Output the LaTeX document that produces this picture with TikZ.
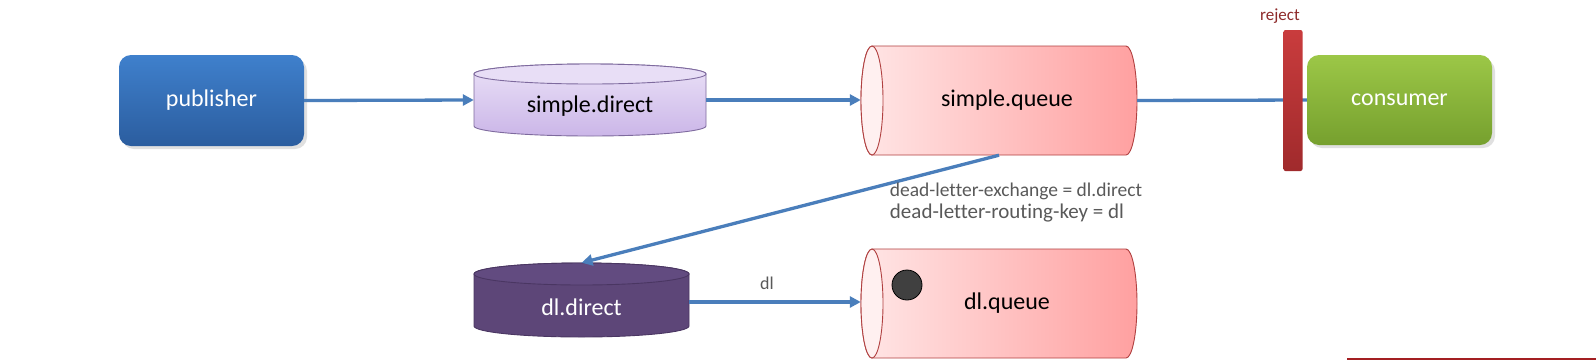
\documentclass[tikz,border=0pt]{standalone}
\usepackage{fontspec}
\setmainfont{Carlito}[Ligatures=NoCommon]
\usetikzlibrary{arrows.meta}
\definecolor{arrowblue}{HTML}{4A7EBB}
\definecolor{pubtop}{HTML}{3F80CC}
\definecolor{pubbot}{HTML}{2B5D9F}
\definecolor{contop}{HTML}{9CC747}
\definecolor{conbot}{HTML}{76A02E}
\definecolor{lavtop}{HTML}{EAE1F7}
\definecolor{lavbot}{HTML}{CBB6E8}
\definecolor{lavface}{HTML}{E8DEF6}
\definecolor{lavline}{HTML}{7E6A9E}
\definecolor{pinkL}{HTML}{FFE6E6}
\definecolor{pinkR}{HTML}{FFA0A0}
\definecolor{pinkface}{HTML}{FFF0F0}
\definecolor{pinkline}{HTML}{B04040}
\definecolor{dlbody}{HTML}{5D4678}
\definecolor{dlface}{HTML}{624B80}
\definecolor{dlline}{HTML}{4A3662}
\definecolor{rejtop}{HTML}{C93C3D}
\definecolor{rejbot}{HTML}{A02A2C}
\definecolor{rejtext}{HTML}{8E2B2B}
\definecolor{graytext}{HTML}{595959}
\definecolor{bottomred}{HTML}{A31F22}
\tikzset{
  conn/.style={draw=arrowblue, line width=3.3pt},
  arr/.style={conn, -{Triangle[length=11pt,width=11pt]}},
  label24/.style={font=\fontsize{24}{28}\selectfont, inner sep=0pt},
  boxnode/.style={rounded corners=12pt, inner sep=0pt, text=white, font=\fontsize{24}{28}\selectfont},
  shapenode/.style={inner sep=0pt, font=\fontsize{24}{28}\selectfont},
  shadowbox/.style={fill=black!12, rounded corners=12pt},
}
\begin{document}
\begin{tikzpicture}[x=1pt,y=-1pt]
\useasboundingbox (0,0) rectangle (1596,360);
\fill[white] (0,0) rectangle (1596,360);

% publisher
\path[shadowbox] (122,59) rectangle (307,149);
\node[boxnode, top color=pubtop, bottom color=pubbot, minimum width=185pt, minimum height=91pt] (pub) at (211.5,100.5) {publisher};

% simple.direct (vertical cylinder)
\shade[top color=lavtop, bottom color=lavbot, draw=lavline, line width=0.9pt]
  (474,74) -- (474,126) arc[start angle=180,end angle=360,x radius=116pt,y radius=10pt]
  -- (706,74) arc[start angle=0,end angle=180,x radius=116pt,y radius=10pt] -- cycle;
\filldraw[fill=lavface, draw=lavline, line width=0.9pt] (590,74) ellipse[x radius=116pt,y radius=10pt];
\node[shapenode, minimum width=232pt, minimum height=72pt] (sd) at (590,100) {};
\node[label24] at (590,106) {simple.direct};

% simple.queue (horizontal cylinder)
\shade[left color=pinkL, right color=pinkR, draw=pinkline, line width=0.9pt]
  (872,46) -- (1126,46) arc[start angle=90,end angle=-90,x radius=11pt,y radius=54.5pt]
  -- (872,155) arc[start angle=270,end angle=90,x radius=11pt,y radius=54.5pt] -- cycle;
\filldraw[fill=pinkface, draw=pinkline, line width=0.9pt] (872,100.5) ellipse[x radius=11pt,y radius=54.5pt];
\node[shapenode, minimum width=276pt, minimum height=109pt] (sq) at (999,100.5) {};
\node[label24] at (1007,100.5) {simple.queue};

% dl.direct (vertical cylinder)
\fill[dlbody, draw=dlline, line width=0.9pt]
  (474,274) -- (474,326) arc[start angle=180,end angle=360,x radius=107.5pt,y radius=11pt]
  -- (689,274) arc[start angle=0,end angle=180,x radius=107.5pt,y radius=11pt] -- cycle;
\filldraw[fill=dlface, draw=dlline, line width=0.9pt] (581.5,274) ellipse[x radius=107.5pt,y radius=11pt];
\node[shapenode, minimum width=215pt, minimum height=74pt] (dd) at (581.5,300) {};
\node[label24, text=white] at (581.5,307) {dl.direct};

% dl.queue (horizontal cylinder)
\shade[left color=pinkL, right color=pinkR, draw=pinkline, line width=0.9pt]
  (872,249) -- (1126,249) arc[start angle=90,end angle=-90,x radius=11pt,y radius=54.5pt]
  -- (872,358) arc[start angle=270,end angle=90,x radius=11pt,y radius=54.5pt] -- cycle;
\filldraw[fill=pinkface, draw=pinkline, line width=0.9pt] (872,303.5) ellipse[x radius=11pt,y radius=54.5pt];
\node[shapenode, minimum width=276pt, minimum height=109pt] (dq) at (999,303.5) {};
\node[label24] at (1007,303.5) {dl.queue};
\node[circle, minimum size=30pt, inner sep=0pt, fill=black!75, draw=black, line width=0.8pt] (msg) at (907,285) {};

% consumer
\path[shadowbox] (1310,59) rectangle (1495,148);
\node[boxnode, top color=contop, bottom color=conbot, minimum width=185pt, minimum height=90pt] (con) at (1399.5,100) {consumer};

% connectors
\draw[arr] (pub.east) -- (sd.west);
\draw[arr] (sd.east |- 0,100) -- (sq.west |- 0,100);
\draw[conn] (sq.east) -- (con.west);
\draw[arr] (sq.south) -- (dd.north);
\draw[arr] (dd.east |- 0,302) -- (dq.west |- 0,302);

% reject bar
\node[rounded corners=2pt, top color=rejtop, bottom color=rejbot, minimum width=19pt, minimum height=141pt, inner sep=0pt] (rej) at (1293,100.5) {};
\node[font=\fontsize{17}{20}\selectfont, text=rejtext, inner sep=0pt] (rejlbl) at (1280,16) {reject};

% labels
\node[font=\fontsize{18}{21}\selectfont, text=graytext, inner sep=0pt] (dllbl) at (767,283) {dl};
\node[font=\fontsize{19.5}{22}\selectfont, text=graytext, inner sep=0pt] (dlx) at (1016,191) {dead-letter-exchange = dl.direct};
\node[font=\fontsize{21}{24}\selectfont, text=graytext, inner sep=0pt] (dlk) at (1007,213) {dead-letter-routing-key = dl};

% bottom red strip
\fill[bottomred] (1347,357.5) rectangle (1596,360);
\end{tikzpicture}
\end{document}
